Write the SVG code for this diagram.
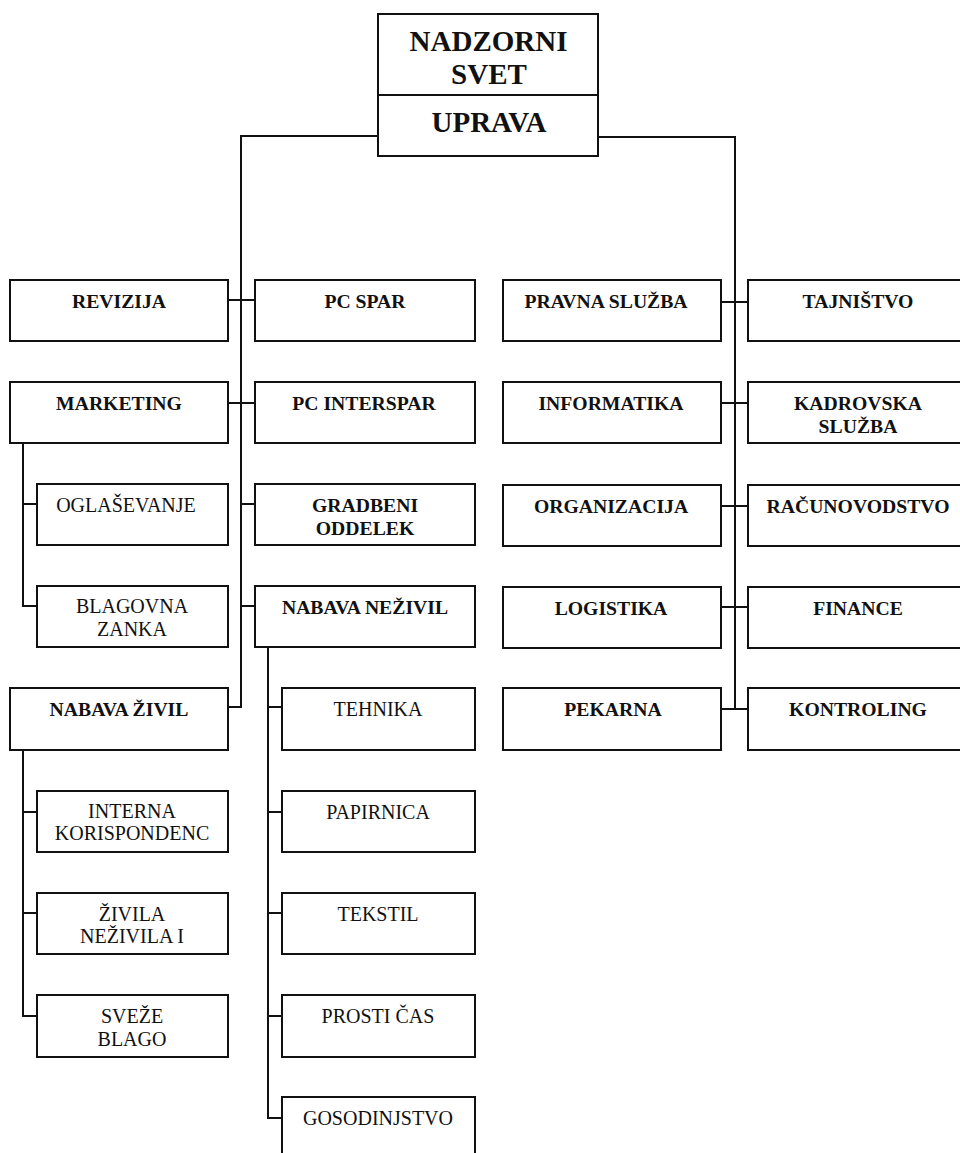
<svg xmlns="http://www.w3.org/2000/svg" width="960" height="1153" viewBox="0 0 960 1153">
  <style>
    .box { fill: #ffffff; stroke: #111111; stroke-width: 2; }
    .wire { fill: none; stroke: #111111; stroke-width: 2; }
    text { font-family: "Liberation Serif", "Times New Roman", serif; fill: #111111; text-anchor: middle; }
    .b { font-weight: bold; font-size: 19.7px; }
    .r { font-size: 20px; }
    .head { font-weight: bold; font-size: 29px; }
  </style>
  <rect width="960" height="1153" fill="#ffffff"/>

  <!-- connectors -->
  <g id="connectors" class="wire">
    <path d="M378,136 H241 V707 H228"/>
    <path d="M228,300 H255 M228,403 H255 M241,504 H255 M241,606 H255"/>
    <path d="M23,443 V606 H37 M23,504 H37"/>
    <path d="M23,750 V1016 H37 M23,812 H37 M23,913 H37"/>
    <path d="M268,647 V1118 H282 M268,707 H282 M268,812 H282 M268,913 H282 M268,1016 H282"/>
    <path d="M598,137 H735 V709"/>
    <path d="M721,302 H748 M721,403 H748 M721,506 H748 M721,607 H748 M721,709 H748"/>
  </g>

  <!-- top -->
  <g id="nadzorni-svet">
    <rect class="box" x="378" y="14" width="220" height="81"/>
    <text class="head" x="488.5" y="51">NADZORNI</text>
    <text class="head" x="489" y="84">SVET</text>
  </g>
  <g id="uprava">
    <rect class="box" x="378" y="95" width="220" height="61"/>
    <text class="head" x="489" y="132">UPRAVA</text>
  </g>

  <!-- left column -->
  <g id="revizija">
    <rect class="box" x="10" y="280" width="218" height="61"/>
    <text class="b" x="119" y="308">REVIZIJA</text>
  </g>
  <g id="marketing">
    <rect class="box" x="10" y="382" width="218" height="61"/>
    <text class="b" x="119" y="410">MARKETING</text>
  </g>
  <g id="oglasevanje">
    <rect class="box" x="37" y="484" width="191" height="61"/>
    <text class="r" x="126" y="512">OGLAŠEVANJE</text>
  </g>
  <g id="blagovna-zanka">
    <rect class="box" x="37" y="586" width="191" height="61"/>
    <text class="r" x="132" y="613">BLAGOVNA</text>
    <text class="r" x="132" y="636">ZANKA</text>
  </g>
  <g id="nabava-zivil">
    <rect class="box" x="10" y="688" width="218" height="62"/>
    <text class="b" x="119" y="716">NABAVA ŽIVIL</text>
  </g>
  <g id="interna-korispondenc">
    <rect class="box" x="37" y="791" width="191" height="61"/>
    <text class="r" x="132" y="818">INTERNA</text>
    <text class="r" x="132" y="840">KORISPONDENC</text>
  </g>
  <g id="zivila-nezivila">
    <rect class="box" x="37" y="893" width="191" height="61"/>
    <text class="r" x="132" y="921">ŽIVILA</text>
    <text class="r" x="132" y="943">NEŽIVILA I</text>
  </g>
  <g id="sveze-blago">
    <rect class="box" x="37" y="995" width="191" height="62"/>
    <text class="r" x="132" y="1023">SVEŽE</text>
    <text class="r" x="132" y="1046">BLAGO</text>
  </g>

  <!-- second column -->
  <g id="pc-spar">
    <rect class="box" x="255" y="280" width="220" height="61"/>
    <text class="b" x="365" y="308">PC SPAR</text>
  </g>
  <g id="pc-interspar">
    <rect class="box" x="255" y="382" width="220" height="61"/>
    <text class="b" x="364" y="410">PC INTERSPAR</text>
  </g>
  <g id="gradbeni-oddelek">
    <rect class="box" x="255" y="484" width="220" height="61"/>
    <text class="b" x="365" y="512">GRADBENI</text>
    <text class="b" x="365" y="535">ODDELEK</text>
  </g>
  <g id="nabava-nezivil">
    <rect class="box" x="255" y="586" width="220" height="61"/>
    <text class="b" x="365" y="614">NABAVA NEŽIVIL</text>
  </g>
  <g id="tehnika">
    <rect class="box" x="282" y="688" width="193" height="62"/>
    <text class="r" x="378" y="716">TEHNIKA</text>
  </g>
  <g id="papirnica">
    <rect class="box" x="282" y="791" width="193" height="61"/>
    <text class="r" x="378" y="819">PAPIRNICA</text>
  </g>
  <g id="tekstil">
    <rect class="box" x="282" y="893" width="193" height="61"/>
    <text class="r" x="378" y="921">TEKSTIL</text>
  </g>
  <g id="prosti-cas">
    <rect class="box" x="282" y="995" width="193" height="62"/>
    <text class="r" x="378" y="1023">PROSTI ČAS</text>
  </g>
  <g id="gosodinjstvo">
    <rect class="box" x="282" y="1097" width="193" height="70"/>
    <text class="r" x="378" y="1125">GOSODINJSTVO</text>
  </g>

  <!-- third column -->
  <g id="pravna-sluzba">
    <rect class="box" x="503" y="280" width="218" height="61"/>
    <text class="b" x="606" y="308">PRAVNA SLUŽBA</text>
  </g>
  <g id="informatika">
    <rect class="box" x="503" y="382" width="218" height="61"/>
    <text class="b" x="611" y="410">INFORMATIKA</text>
  </g>
  <g id="organizacija">
    <rect class="box" x="503" y="485" width="218" height="61"/>
    <text class="b" x="611" y="513">ORGANIZACIJA</text>
  </g>
  <g id="logistika">
    <rect class="box" x="503" y="587" width="218" height="61"/>
    <text class="b" x="611" y="615">LOGISTIKA</text>
  </g>
  <g id="pekarna">
    <rect class="box" x="503" y="688" width="218" height="62"/>
    <text class="b" x="613" y="716">PEKARNA</text>
  </g>

  <!-- fourth column -->
  <g id="tajnistvo">
    <rect class="box" x="748" y="280" width="222" height="61"/>
    <text class="b" x="858" y="308">TAJNIŠTVO</text>
  </g>
  <g id="kadrovska-sluzba">
    <rect class="box" x="748" y="382" width="222" height="61"/>
    <text class="b" x="858" y="410">KADROVSKA</text>
    <text class="b" x="858" y="433">SLUŽBA</text>
  </g>
  <g id="racunovodstvo">
    <rect class="box" x="748" y="485" width="222" height="61"/>
    <text class="b" x="858" y="513">RAČUNOVODSTVO</text>
  </g>
  <g id="finance">
    <rect class="box" x="748" y="587" width="222" height="61"/>
    <text class="b" x="858" y="615">FINANCE</text>
  </g>
  <g id="kontroling">
    <rect class="box" x="748" y="688" width="222" height="62"/>
    <text class="b" x="858" y="716">KONTROLING</text>
  </g>
</svg>
